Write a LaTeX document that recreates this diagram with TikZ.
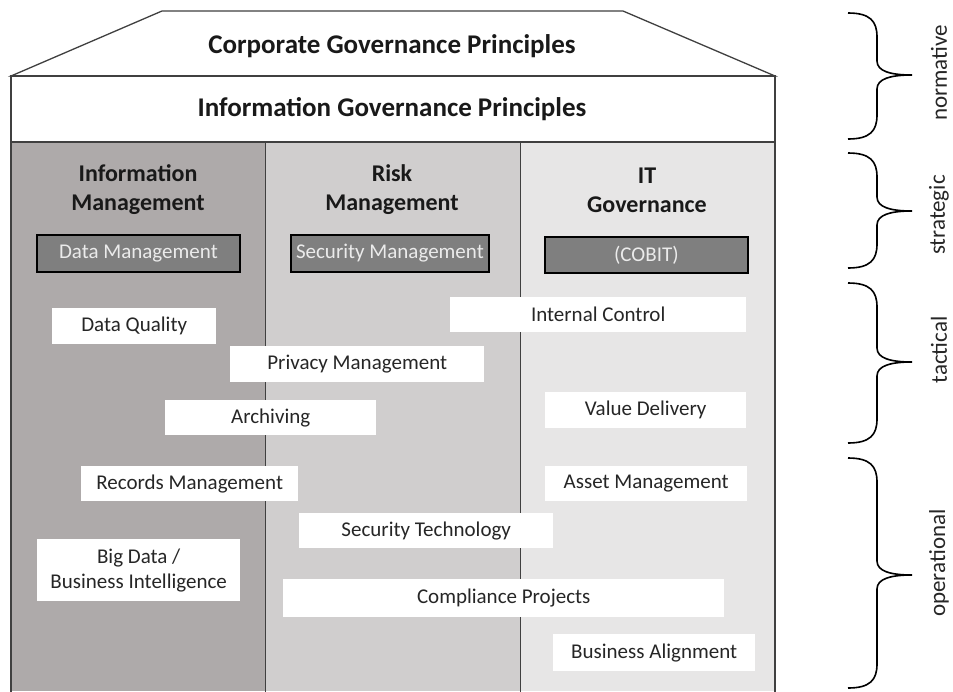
\documentclass[tikz,border=0pt]{standalone}
\usepackage{fontspec}
\setmainfont{Carlito}
\definecolor{colA}{HTML}{AEAAAA}
\definecolor{colB}{HTML}{D0CECE}
\definecolor{colC}{HTML}{E7E6E6}
\definecolor{darkbox}{HTML}{7F7F7F}
\definecolor{outline}{HTML}{404040}
\begin{document}
\begin{tikzpicture}[x=1pt,y=-1pt,
  house/.style={draw=outline,line width=1.3pt},
  coltitle/.style={font=\fontsize{24}{29}\selectfont\bfseries,align=center,text=black!90},
  darkb/.style={draw=black,line width=1.8pt,fill=darkbox,text=white!92!black,font=\fontsize{21}{24}\selectfont,inner sep=0pt,anchor=north west},
  whiteb/.style={fill=white,text=black!85,font=\fontsize{21}{25}\selectfont,inner sep=0pt,align=center,anchor=north west},
  lvl/.style={rotate=90,font=\fontsize{23}{26}\selectfont,text=black!85,inner sep=0pt},
  brace/.style={line width=1.6pt,black}]
\useasboundingbox (0,0) rectangle (953,691);
\fill[white] (0,0) rectangle (953,691);
% columns
\fill[colA] (11,142) rectangle (265,691);
\fill[colB] (265,142) rectangle (520,691);
\fill[colC] (520,142) rectangle (775,691);
% roof and band
\draw[house,fill=white] (11,76) -- (162,11) -- (623,11) -- (775,76) -- cycle;
\draw[house,fill=white] (11,76) rectangle (775,142);
\draw[house] (11,142) -- (11,692);
\draw[house] (775,142) -- (775,692);
\draw[outline,line width=1pt] (265,142) -- (265,692);
\draw[outline,line width=1pt] (520,142) -- (520,692);
\node[font=\fontsize{27}{30}\selectfont\bfseries,text=black!90] (cgp) at (392,46) {Corporate Governance Principles};
\node[font=\fontsize{27}{30}\selectfont\bfseries,text=black!90] (igp) at (392,109) {Information Governance Principles};
% column titles
\node[coltitle] (im) at (138,190) {Information\\Management};
\node[coltitle] (rm) at (392,190) {Risk\\Management};
\node[coltitle] (itg) at (647,190) {IT\\Governance};
% dark boxes
\node[darkb,minimum width=203pt,minimum height=37pt] (dm) at (36,234) {Data Management};
\node[darkb,minimum width=198pt,minimum height=37pt] (sm) at (290,234) {Security Management};
\node[darkb,minimum width=203pt,minimum height=36pt] (cobit) at (544,236) {(COBIT)};
% white boxes
\node[whiteb,minimum width=164pt,minimum height=36pt] (dq) at (52,308) {Data Quality};
\node[whiteb,minimum width=296pt,minimum height=35pt] (ic) at (450,297) {Internal Control};
\node[whiteb,minimum width=254pt,minimum height=36pt] (pm) at (230,346) {Privacy Management};
\node[whiteb,minimum width=211pt,minimum height=35pt] (arch) at (165,400) {Archiving};
\node[whiteb,minimum width=201pt,minimum height=36pt] (vd) at (545,392) {Value Delivery};
\node[whiteb,minimum width=217pt,minimum height=35pt] (rec) at (81,466) {Records Management};
\node[whiteb,minimum width=202pt,minimum height=35pt] (am) at (545,466) {Asset Management};
\node[whiteb,minimum width=254pt,minimum height=35pt] (st) at (299,513) {Security Technology};
\node[whiteb,minimum width=203pt,minimum height=62pt] (bd) at (37,539) {Big Data /\\Business Intelligence};
\node[whiteb,minimum width=441pt,minimum height=38pt] (cp) at (283,579) {Compliance Projects};
\node[whiteb,minimum width=202pt,minimum height=37pt] (ba) at (553,634) {Business Alignment};
% braces
\newcommand{\drawbrace}[3]{%
  \draw[brace] (848,#1) .. controls (870,#1) and (877,#1+8) .. (877,#1+24)
     -- (877,#3-14) .. controls (877,#3-4) and (890,#3) .. (912,#3)
     .. controls (890,#3) and (877,#3+4) .. (877,#3+14)
     -- (877,#2-24) .. controls (877,#2-8) and (870,#2) .. (848,#2);}
\drawbrace{13}{139}{75}
\drawbrace{153}{268}{211}
\drawbrace{283}{443}{362}
\drawbrace{458}{688}{575}
\node[lvl] (norm) at (939,73) {normative};
\node[lvl] (strat) at (939,215) {strategic};
\node[lvl] (tact) at (939,350) {tactical};
\node[lvl] (oper) at (939,563) {operational};
\end{tikzpicture}
\end{document}
